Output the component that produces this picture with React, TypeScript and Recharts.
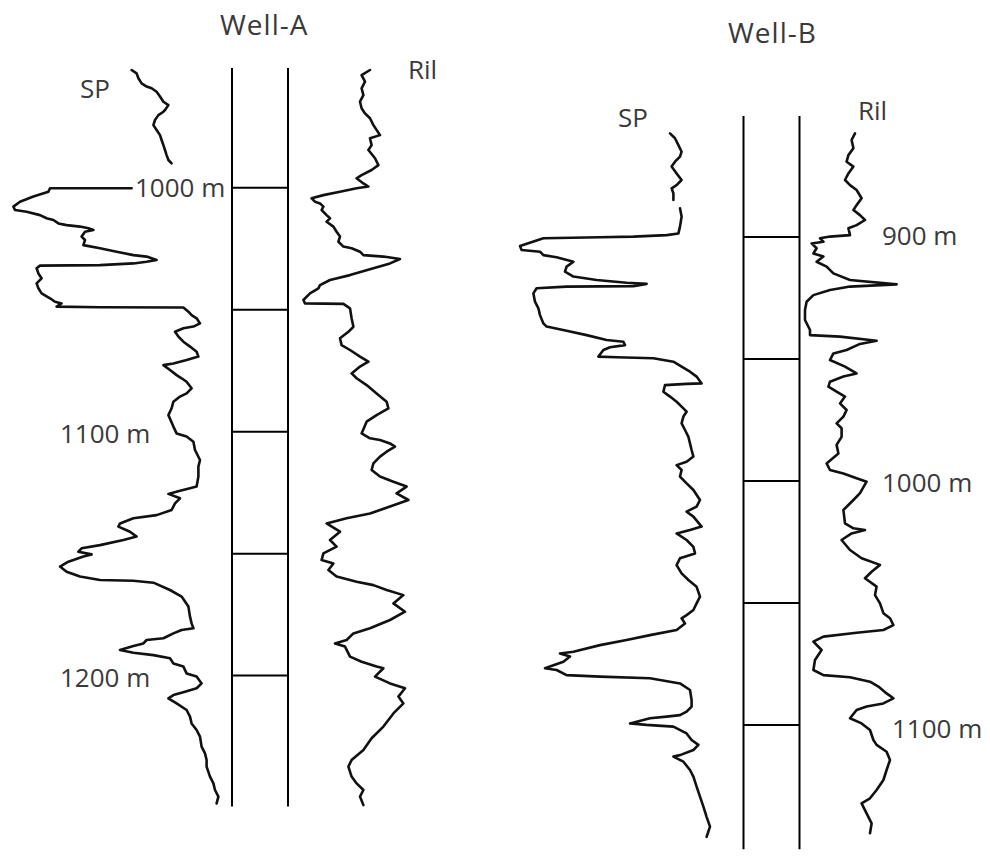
import React from 'react';
import { ComposedChart, Scatter, XAxis, YAxis, ReferenceLine } from 'recharts';

const W = 990;
const H = 856;

// ---------------- Well-A ----------------
const spATopDepth = [951.7, 953.1, 955.1, 957.2, 958.5, 959.2, 960.6, 962.6, 964.7, 966.1, 968.1, 968.8, 970.2, 972.2, 974.3, 976.3, 978.4, 980.4, 982.5, 984.5, 986.6, 988.6, 990.0];
const spATopValue = [65.8, 68.3, 69.2, 70.8, 73.3, 75.8, 78.3, 80, 81.7, 84.2, 82.5, 81.7, 79.2, 77.5, 76.7, 78.3, 80, 80.8, 81.7, 82.5, 83.3, 84.2, 85.8];

const spADepth = [
  1000.2, 1000.2, 1001.6, 1003.6, 1005.7, 1007.7, 1009.1, 1009.8, 1011.2, 1012.5,
  1013.2, 1014.6, 1015.3, 1015.9, 1016.6, 1017.3, 1018.0, 1020.0, 1021.4, 1023.5,
  1024.8, 1026.2, 1027.6, 1028.2, 1029.6, 1030.3, 1031.0, 1031.7, 1031.9, 1033.0,
  1035.1, 1037.1, 1039.2, 1041.2, 1043.3, 1045.3, 1046.7, 1047.4, 1048.7, 1049.0,
  1049.1, 1050.8, 1052.2, 1053.5, 1055.6, 1056.9, 1057.6, 1059.0, 1061.0, 1063.1,
  1065.1, 1067.2, 1069.2, 1070.6, 1072.0, 1072.7, 1074.7, 1076.8, 1078.1, 1079.5,
  1082.2, 1084.3, 1085.6, 1087.7, 1090.4, 1093.2, 1097.9, 1100.7, 1102.0, 1104.1,
  1107.5, 1111.6, 1114.3, 1118.4, 1122.5, 1123.2, 1124.2, 1125.5, 1127.3, 1129.4,
  1132.1, 1134.2, 1135.5, 1137.6, 1138.9, 1141.0, 1143.0, 1144.4, 1146.5, 1147.8,
  1149.2, 1150.3, 1151.2, 1153.3, 1155.3, 1157.4, 1159.4, 1160.8, 1161.1, 1161.9,
  1164.9, 1167.6, 1171.7, 1175.8, 1178.6, 1180.6, 1181.3, 1182.7, 1184.7, 1185.4,
  1186.8, 1187.9, 1189.5, 1190.6, 1191.6, 1192.9, 1195.0, 1196.3, 1199.1, 1200.4,
  1203.2, 1205.2, 1206.6, 1208.0, 1209.3, 1211.4, 1214.1, 1216.8, 1219.6, 1222.3,
  1225.0, 1229.1, 1231.9, 1234.6, 1237.3, 1241.4, 1244.2, 1246.9, 1249.6, 1252.4,
];
const spAValue = [
  65.8, 25, 24.2, 16.7, 10, 6.7, 7.5, 13.3, 20, 23.3,
  26.7, 29.2, 33.3, 40, 44.2, 46.7, 42.5, 40.8, 42.5, 41.7,
  50, 58.3, 66.7, 73.3, 78.3, 73.3, 66.7, 50, 20, 18.3,
  19.2, 20.8, 18.3, 19.2, 20.8, 25, 27.5, 30.8, 28.3, 50,
  91.7, 94.2, 95.8, 98.3, 100, 96.7, 91.7, 87.5, 89.2, 91.7,
  95, 98.3, 99.2, 93.3, 86.7, 81.7, 85, 88.3, 90.8, 93.3,
  95.8, 93.3, 90, 86.7, 85.8, 84.2, 86.7, 88.3, 93.3, 96.7,
  97.5, 100, 99.2, 99.2, 98.3, 95, 90, 84.2, 90, 87.5,
  85.8, 78.3, 66.7, 60, 59.2, 65, 68.3, 61.7, 50, 40.8,
  39.2, 45.8, 41.7, 34.2, 30, 33.3, 40, 50, 66.7, 76.7,
  85, 90.8, 94.2, 95, 95.8, 96.7, 90.8, 86.7, 81.7, 73.3,
  71.7, 66.7, 60, 66.7, 76.7, 85, 86.7, 91.7, 93.3, 98.3,
  100.8, 98.3, 92.5, 86.7, 84.2, 88.3, 93.3, 95, 95.8, 98.3,
  100, 100.8, 102.5, 103.3, 103.3, 105, 106.7, 107.5, 109.2, 108.3,
];

const rilADepth = [
  951.7, 953.8, 956.5, 959.2, 962.0, 964.7, 967.4, 969.5, 971.5, 974.3,
  978.4, 979.7, 982.5, 984.5, 987.9, 990.7, 992.7, 994.8, 996.1, 998.2,
  999.5, 1000.2, 1001.6, 1003.0, 1004.3, 1005.7, 1006.4, 1007.7, 1009.1, 1011.2,
  1012.5, 1013.9, 1015.9, 1018.0, 1020.0, 1022.1, 1024.1, 1024.8, 1026.2, 1027.6,
  1028.2, 1029.2, 1031.0, 1033.0, 1035.8, 1037.8, 1039.9, 1041.2, 1043.3, 1046.0,
  1047.4, 1047.5, 1047.6, 1049.4, 1053.5, 1057.0, 1059.0, 1061.7, 1064.5, 1066.5,
  1069.2, 1071.3, 1073.3, 1076.1, 1078.1, 1080.9, 1084.3, 1087.7, 1090.4, 1093.2,
  1095.9, 1100.7, 1102.7, 1103.4, 1104.8, 1106.1, 1108.2, 1110.2, 1113.0, 1115.7,
  1118.4, 1120.5, 1122.5, 1125.3, 1128.0, 1130.7, 1133.5, 1135.5, 1137.6, 1141.0,
  1144.4, 1147.1, 1149.9, 1152.6, 1154.0, 1156.7, 1159.4, 1161.5, 1162.9, 1164.9,
  1167.0, 1170.4, 1173.8, 1177.2, 1180.6, 1182.7, 1185.4, 1186.8, 1188.1, 1192.2,
  1194.3, 1196.3, 1197.0, 1200.4, 1203.2, 1205.2, 1208.6, 1211.4, 1215.5, 1220.9,
  1225.7, 1230.5, 1234.6, 1237.3, 1241.4, 1244.2, 1246.9, 1249.6, 1253.1,
];
const rilAValue = [
  35, 30.8, 32.5, 30.8, 31.7, 30, 30.8, 32.5, 35, 36.7,
  40, 35, 35.8, 34.2, 37.5, 39.2, 35.8, 30.8, 28.3, 31.7,
  34.2, 28.3, 20, 11.7, 5.8, 7.5, 10, 11.7, 10.8, 13.3,
  15, 13.3, 16.7, 18.3, 20, 19.2, 21.7, 25.8, 30, 31.7,
  41.7, 50, 45, 36.7, 25, 15, 10, 9.2, 5, 1.7,
  2.5, 11.7, 21.7, 25, 25.8, 26.7, 24.2, 20, 20.8, 25,
  30, 34.2, 30, 25.8, 28.3, 33.3, 38.3, 43.3, 44.2, 38.3,
  33.3, 30.8, 35, 40, 45, 47.5, 43.3, 40, 36.7, 35.8,
  40, 46.7, 53.3, 48.3, 54.2, 45, 35, 23.3, 13.3, 20,
  15, 18.3, 11.7, 10.8, 16.7, 14.2, 18.3, 28.3, 36.7, 43.3,
  51.7, 46.7, 52.5, 45, 35, 26.7, 23.3, 17.5, 22.5, 25,
  30.8, 38.3, 41.7, 37.5, 45, 52.5, 49.2, 51.7, 46.7, 41.7,
  35.8, 31.7, 25.8, 24.2, 25.8, 28.3, 31.7, 30, 31.7,
];

// ---------------- Well-B ----------------
const spBTopDepth = [857.5, 859.5, 862.3, 865.0, 867.0, 869.1, 871.1, 873.9, 876.6, 878.7, 880.0, 882.1, 884.8];
const spBTopValue = [85, 87.5, 89.2, 90.8, 90, 87.5, 85.8, 88.3, 90.8, 88.3, 85.8, 86.7, 86.7];

const spBDepth = [
  888.2, 891.6, 895.7, 898.5, 899.2, 899.8, 900.1, 900.5, 903.7, 905.3,
  906.0, 907.4, 908.3, 910.1, 912.1, 914.2, 916.2, 917.6, 918.7, 919.2,
  920.1, 920.3, 921.0, 923.1, 926.5, 929.2, 932.0, 935.4, 936.7, 938.4,
  940.2, 942.2, 942.9, 944.3, 945.2, 946.3, 949.0, 949.3, 949.7, 951.1,
  953.1, 955.2, 957.2, 960.0, 960.2, 960.7, 963.4, 965.4, 967.5, 969.5,
  971.6, 973.6, 976.4, 979.1, 981.9, 984.6, 987.3, 990.0, 992.1, 993.5,
  995.5, 998.2, 1001.0, 1003.7, 1007.8, 1010.5, 1012.6, 1014.6, 1018.7, 1020.1,
  1021.5, 1024.2, 1027.0, 1029.7, 1031.7, 1034.5, 1037.9, 1040.6, 1043.4, 1047.4,
  1050.2, 1052.9, 1055.0, 1056.3, 1058.4, 1061.1, 1063.2, 1065.2, 1067.3, 1070.0,
  1070.7, 1072.0, 1074.1, 1076.8, 1077.5, 1079.6, 1080.2, 1080.9, 1083.0, 1085.7,
  1089.8, 1092.5, 1094.6, 1096.0, 1096.6, 1097.3, 1099.4, 1100.0, 1100.7, 1103.5,
  1106.2, 1108.2, 1110.3, 1112.4, 1113.0, 1115.1, 1118.5, 1121.2, 1125.3, 1129.4,
  1133.5, 1137.7, 1141.7, 1145.9,
];
const spBValue = [
  90, 90.8, 90, 89.2, 83.3, 66.7, 50, 21.7, 10, 10.8,
  20, 21.7, 28.3, 36.7, 33.3, 32.5, 36.7, 48.3, 63.3, 73.3,
  66.7, 33.3, 18.3, 16.7, 17.5, 19.2, 20, 21.7, 23.3, 33.3,
  43.3, 53.3, 61.7, 62.5, 55, 51.7, 49.2, 58.3, 76.7, 86.7,
  90.8, 95, 98.3, 100.8, 93.3, 82.5, 81.7, 85, 88.3, 90.8,
  93.3, 91.7, 90.8, 92.5, 94.2, 95, 95.8, 96.7, 93.3, 88.3,
  90.8, 90, 93.3, 96.7, 100, 98.3, 93.3, 96.7, 100.8, 95,
  88.3, 93.3, 96.7, 97.5, 90, 88.3, 90.8, 94.2, 98.3, 100,
  98.3, 96.7, 93.3, 90.8, 92.5, 88.3, 75, 63.3, 50, 36.7,
  30, 35, 31.7, 22.5, 28.3, 33.3, 50, 75, 90, 95,
  95.8, 95.8, 93.3, 90, 83.3, 75, 65, 73.3, 86.7, 93.3,
  95.8, 99.2, 96.7, 90, 86.7, 91.7, 95, 96.7, 98.3, 100,
  101.7, 103.3, 105, 103.3,
];

const rilBDepth = [
  857.5, 860.2, 863.6, 866.4, 869.1, 871.1, 873.9, 876.6, 878.7, 880.7,
  884.1, 886.9, 888.9, 891.0, 893.0, 895.1, 896.4, 899.2, 899.8, 900.5,
  901.9, 902.6, 904.6, 906.7, 908.0, 910.1, 912.1, 914.9, 917.6, 919.4,
  920.3, 921.7, 923.8, 926.5, 929.9, 934.0, 938.1, 940.2, 940.8, 942.5,
  943.8, 946.3, 947.7, 950.4, 953.1, 955.9, 957.2, 959.3, 961.3, 963.4,
  965.4, 968.2, 970.9, 973.6, 976.4, 978.4, 981.9, 985.2, 988.7, 992.8,
  995.5, 996.9, 998.9, 1000.3, 1005.0, 1007.8, 1011.9, 1017.4, 1019.4, 1020.1,
  1021.5, 1024.2, 1028.3, 1031.7, 1034.4, 1037.2, 1039.9, 1043.3, 1046.8, 1050.2,
  1054.2, 1056.3, 1059.1, 1061.1, 1062.2, 1063.8, 1065.9, 1069.3, 1073.4, 1077.5,
  1079.6, 1080.5, 1082.3, 1084.3, 1087.1, 1089.1, 1091.2, 1092.5, 1093.9, 1097.3,
  1099.4, 1102.1, 1106.2, 1108.2, 1111.0, 1114.4, 1118.5, 1122.6, 1126.7, 1130.1,
  1132.2, 1136.3, 1140.4, 1144.4,
];
const rilBValue = [
  27.5, 25.8, 26.7, 24.2, 23.3, 26.7, 24.2, 22.5, 25, 28.3,
  30.8, 28.3, 26.7, 30, 32.5, 28.3, 24.2, 25, 15, 10,
  11.7, 5.8, 8.3, 6.7, 11.7, 8.3, 13.3, 16.7, 25, 48.3,
  25, 15, 6.7, 3.3, 2.5, 2.5, 5, 5, 20, 38.3,
  30, 23.3, 16.7, 15, 22.5, 28.3, 21.7, 15, 14.2, 18.3,
  22.5, 20, 23.3, 21.7, 18.3, 20.8, 20.8, 18.3, 19.2, 13.3,
  15, 21.7, 28.3, 33.3, 30, 26.7, 21.7, 22.5, 26.7, 32.5,
  25.8, 20.8, 25, 30.8, 40, 35.8, 32.5, 38.3, 37.5, 40,
  41.7, 45, 46.7, 41.7, 28.3, 11.7, 6.7, 10.8, 7.5, 6.7,
  11.7, 25, 35, 39.2, 43.3, 46.7, 41.7, 33.3, 28.3, 25,
  30.8, 35, 36.7, 38.3, 43.3, 45, 43.3, 41.7, 38.3, 35,
  30.8, 33.3, 35.8, 35,
];

// depth column
const wellATicks = [1000, 1050, 1100, 1150, 1200];
const wellBTicks = [900, 950, 1000, 1050, 1100];
const wellAColumnTop = 950.9;
const wellAColumnBottom = 1253.7;
const wellBColumnTop = 850.4;
const wellBColumnBottom = 1151.0;

const toPts = (d: number[], v: number[]) => d.map((dd, i) => ({ d: dd, v: v[i] }));

const NoDot = () => <g />;

const CURVE = '#111111';
const lineStyle: any = { stroke: CURVE, strokeWidth: 2.6, strokeLinejoin: 'round', strokeLinecap: 'round', fill: 'none' };

const TXT = '#3a3a3a';
const FONT = "'Open Sans', 'Noto Sans', sans-serif";

export default function App() {
  const colA = [232, 288];
  const colB = [743.5, 799.5];
  return (
    <div style={{ position: 'absolute', left: 0, top: 0, width: W, height: H, background: '#fff' }}>
      <ComposedChart width={W} height={H} margin={{ top: 0, right: 0, bottom: 0, left: 0 }}>
        <XAxis xAxisId="pos" type="number" dataKey="v" domain={[0, 990]} allowDataOverflow hide />
        <XAxis xAxisId="spA" type="number" dataKey="v" domain={[0, 495]} allowDataOverflow hide />
        <XAxis xAxisId="rilA" type="number" dataKey="v" domain={[-150, 345]} allowDataOverflow hide />
        <XAxis xAxisId="spB" type="number" dataKey="v" domain={[-250, 245]} allowDataOverflow hide />
        <XAxis xAxisId="rilB" type="number" dataKey="v" domain={[-400, 95]} allowDataOverflow hide />
        <YAxis yAxisId="A" type="number" dataKey="d" domain={[923, 1273.96]} reversed allowDataOverflow hide />
        <YAxis yAxisId="B" type="number" dataKey="d" domain={[802.8, 1153.76]} reversed allowDataOverflow hide />

        {colA.map((x) => (
          <ReferenceLine key={'ava' + x} xAxisId="pos" yAxisId="A" stroke="#000" strokeWidth={2}
            segment={[{ x, y: wellAColumnTop }, { x, y: wellAColumnBottom }]} />
        ))}
        {wellATicks.map((t) => (
          <ReferenceLine key={'aht' + t} xAxisId="pos" yAxisId="A" stroke="#000" strokeWidth={2}
            segment={[{ x: colA[0], y: t }, { x: colA[1], y: t }]} />
        ))}
        {colB.map((x) => (
          <ReferenceLine key={'bva' + x} xAxisId="pos" yAxisId="B" stroke="#000" strokeWidth={2}
            segment={[{ x, y: wellBColumnTop }, { x, y: wellBColumnBottom }]} />
        ))}
        {wellBTicks.map((t) => (
          <ReferenceLine key={'bht' + t} xAxisId="pos" yAxisId="B" stroke="#000" strokeWidth={2}
            segment={[{ x: colB[0], y: t }, { x: colB[1], y: t }]} />
        ))}

        <Scatter name="SP A top" data={toPts(spATopDepth, spATopValue)} xAxisId="spA" yAxisId="A"
          fill={CURVE} line={lineStyle} shape={NoDot} isAnimationActive={false} />
        <Scatter name="SP A" data={toPts(spADepth, spAValue)} xAxisId="spA" yAxisId="A"
          fill={CURVE} line={lineStyle} shape={NoDot} isAnimationActive={false} />
        <Scatter name="Ril A" data={toPts(rilADepth, rilAValue)} xAxisId="rilA" yAxisId="A"
          fill={CURVE} line={lineStyle} shape={NoDot} isAnimationActive={false} />
        <Scatter name="SP B top" data={toPts(spBTopDepth, spBTopValue)} xAxisId="spB" yAxisId="B"
          fill={CURVE} line={lineStyle} shape={NoDot} isAnimationActive={false} />
        <Scatter name="SP B" data={toPts(spBDepth, spBValue)} xAxisId="spB" yAxisId="B"
          fill={CURVE} line={lineStyle} shape={NoDot} isAnimationActive={false} />
        <Scatter name="Ril B" data={toPts(rilBDepth, rilBValue)} xAxisId="rilB" yAxisId="B"
          fill={CURVE} line={lineStyle} shape={NoDot} isAnimationActive={false} />
      </ComposedChart>

      <svg width={W} height={H} style={{ position: 'absolute', left: 0, top: 0, pointerEvents: 'none' }}>
        <g fill={TXT} fontFamily={FONT}>
          <text x={220} y={35} fontSize={28} letterSpacing={1}>Well-A</text>
          <text x={728} y={43} fontSize={28} letterSpacing={1}>Well-B</text>
          <text x={80} y={98} fontSize={26}>SP</text>
          <text x={408} y={79} fontSize={26}>Ril</text>
          <text x={618} y={127} fontSize={26}>SP</text>
          <text x={858} y={120} fontSize={26}>Ril</text>
          <text x={135} y={197} fontSize={26}>1000 m</text>
          <text x={60} y={443} fontSize={26}>1100 m</text>
          <text x={60} y={687} fontSize={26}>1200 m</text>
          <text x={882} y={245} fontSize={26}>900 m</text>
          <text x={882} y={492} fontSize={26}>1000 m</text>
          <text x={892} y={738} fontSize={26}>1100 m</text>
        </g>
      </svg>
    </div>
  );
}
